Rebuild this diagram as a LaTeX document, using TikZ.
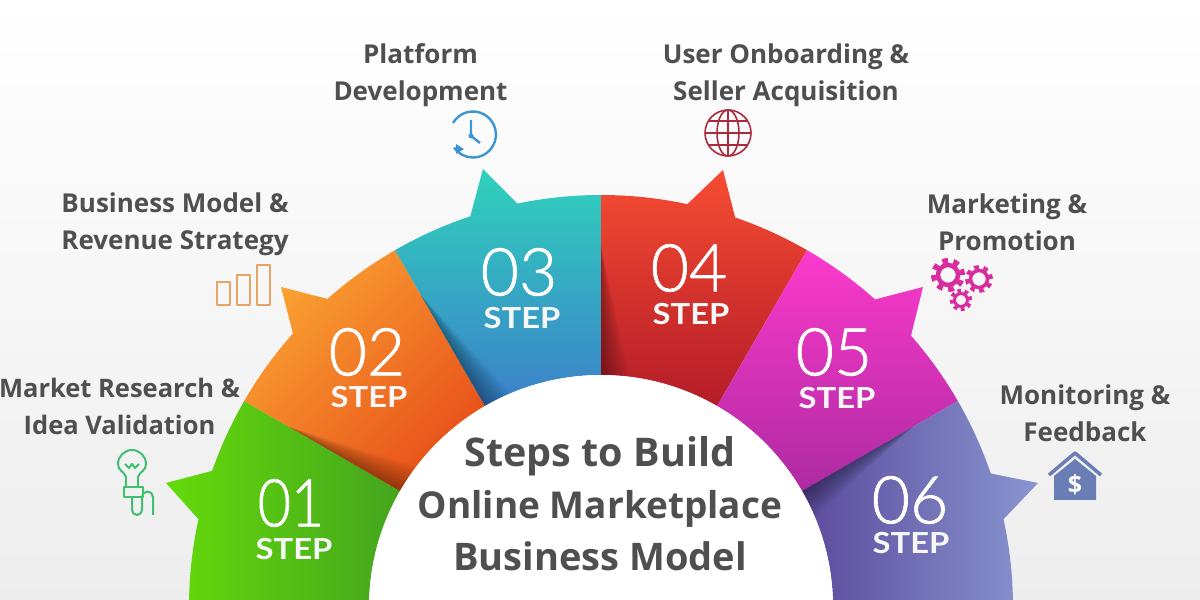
\documentclass[tikz,border=0pt]{standalone}
\usepackage{fontspec}
\setmainfont{Open Sans}
\newfontfamily\digf{Lato Light}[FakeBold=1]
\newfontfamily\stepf{Lato}
\definecolor{ink}{HTML}{4F4F4F}
\definecolor{bulbc}{HTML}{3FBF70}
\definecolor{barc}{HTML}{E6A564}
\definecolor{clockc}{HTML}{3C95D2}
\definecolor{globec}{HTML}{A92B40}
\definecolor{gearc}{HTML}{D92C9E}
\definecolor{housec}{HTML}{6A7DB5}
\definecolor{sa}{HTML}{64DA0A}\definecolor{sb}{HTML}{44A51E}
\definecolor{oa}{HTML}{FAA232}\definecolor{ob}{HTML}{E8501A}
\definecolor{ta}{HTML}{2FD2BC}\definecolor{tb}{HTML}{3C80CA}
\definecolor{ra}{HTML}{F64C32}\definecolor{rb}{HTML}{B41C28}
\definecolor{ma}{HTML}{FC3ACC}\definecolor{mb}{HTML}{AE2AA2}
\definecolor{pa}{HTML}{8896D0}\definecolor{pb}{HTML}{5C4A9C}
\newcommand{\sectorpath}[7]{%
  \shade[#1] (#2:412) arc[start angle=#2,end angle=#3,radius=412] -- (#6,#7)
    -- (#4:412) arc[start angle=#4,end angle=#5,radius=412] -- (#5:232)
    arc[start angle=#5,end angle=#2,radius=232] -- cycle;}
\newcommand{\seamshadow}[2]{%
  \foreach \w in {1,2,...,16}{\fill[black,opacity=.022] (#1:360) -- (#1:232) -- ({#1+#2*\w}:232) -- cycle;}}
% centre x, centre y, ring radius, ring width, tooth ring radius, tooth width, tooth dash
\newcommand{\gearicon}[7]{%
  \draw[gearc,line width=#4] (#1,#2) circle[radius=#3];
  \draw[gearc,line width=#6,dash pattern=on #7pt off #7pt] (#1,#2) circle[radius=#5];}
\newcommand{\steptext}{\scalebox{1.13}[1]{STEP}}
\tikzset{
  lab/.style={font=\fontsize{26}{37}\selectfont\bfseries,text=ink,align=center,inner sep=0pt},
  titlelab/.style={font=\fontsize{37}{52}\selectfont\bfseries,text=ink,align=center,inner sep=0pt},
  num/.style={font=\digf\fontsize{66}{66}\selectfont,text=white,inner sep=0pt},
  steplab/.style={font=\stepf\bfseries\fontsize{29}{29}\selectfont,text=white!94!gray,inner sep=0pt},
}
\begin{document}
\begin{tikzpicture}[x=1pt,y=1pt,line join=round]
\useasboundingbox (0,0) rectangle (1200,600);
\clip (0,0) rectangle (1200,600);
\shade[top color=white,bottom color=black!7] (0,0) rectangle (1200,600);
\begin{scope}[shift={(601,-7)}]
 \sectorpath{left color=sa,right color=sb}{180}{167.7}{160.7}{150}{-435}{124}
 \sectorpath{left color=oa,right color=ob,shading angle=45}{150}{138.4}{131.6}{120}{-320}{320}
 \sectorpath{top color=ta,bottom color=tb}{120}{108.5}{101.7}{90}{-118}{438}
 \sectorpath{top color=ra,bottom color=rb}{90}{77.9}{71}{60}{122}{437}
 \sectorpath{top color=ma,bottom color=mb}{60}{48.3}{41.2}{30}{322}{320}
 \sectorpath{left color=pb,right color=pa}{30}{18.9}{12.3}{0}{437}{124}
 \seamshadow{150}{-.45}
 \seamshadow{120}{-.45}
 \seamshadow{90}{-.45}
 \seamshadow{30}{-.45}
 \fill[white] (0,0) circle[radius=232];
\end{scope}
% numbers
\node[num] (n1) at (291,97) {\scalebox{.87}[1]{01}};
\node[steplab] (s1) at (294,51) {\steptext};
\node[num] (n2) at (367,248) {02};
\node[steplab] (s2) at (369,203) {\steptext};
\node[num] (n3) at (519,328) {03};
\node[steplab] (s3) at (522,282) {\steptext};
\node[num] (n4) at (689,332) {04};
\node[steplab] (s4) at (691,286) {\steptext};
\node[num] (n5) at (834,248) {05};
\node[steplab] (s5) at (837,202) {\steptext};
\node[num] (n6) at (910,100) {06};
\node[steplab] (s6) at (911,57) {\steptext};
% labels
\node[lab,font=\fontsize{25.5}{37}\selectfont\bfseries] (l1) at (119.5,194) {Market Research \&\\Idea Validation};
\node[lab] (l2) at (175,376) {Business Model \&\\Revenue Strategy};
\node[lab] (l3) at (420.5,525) {Platform\\Development};
\node[lab] (l4) at (786,525) {User Onboarding \&\\Seller Acquisition};
\node[lab] (l5) at (1007,378) {Marketing \&\\Promotion};
\node[lab] (l6) at (1085,187) {Monitoring \&\\Feedback};
\node[titlelab] (title) at (600,96) {{\fontsize{39.5}{52}\selectfont Steps to Build}\\Online Marketplace\\{\fontsize{38}{52}\selectfont Business Model}};
% bulb
\begin{scope}[bulbc,line width=2]
 \draw (126,123) .. controls (124,129) and (118,129) .. (118,136) arc[start angle=180,end angle=0,radius=14] .. controls (146,129) and (140,129) .. (138,123);
 \draw (124,113) rectangle (143,103);
 \draw (126,113) -- (126,123) (138,113) -- (138,123);
 \draw (132,103) -- (132,90) arc[start angle=180,end angle=360,radius=5] -- (142,103) arc[start angle=180,end angle=0,radius=5.5] -- (153,85);
 \draw (125,136) -- (129,132) -- (132,136) -- (135,132) -- (139,136);
\end{scope}
% bars
\begin{scope}[barc,line width=2.2]
 \draw (217,295) rectangle (230,318);
 \draw (237,295) rectangle (250,325);
 \draw (257,295) rectangle (270,335);
\end{scope}
% clock
\begin{scope}[clockc,line width=2.4]
 \draw (453,477) arc[start angle=150,end angle=-145,radius=23];
 \fill (456,456) -- (456,446) -- (464,451) -- cycle;
 \draw (471,480) -- (471,464) -- (480,457);
 \fill (471,464) circle[radius=2.5];
\end{scope}
% globe
\begin{scope}[globec,line width=1.6]
 \draw (728,467) circle[radius=23];
 \draw (728,467) ellipse[x radius=11,y radius=23];
 \draw (728,490) -- (728,444);
 \draw (705,467) -- (751,467);
 \draw (709,479) -- (747,479) (709,455) -- (747,455);
\end{scope}
% gears
\gearicon{948}{325}{10}{4.5}{14.5}{5}{5.7}
\gearicon{979}{321}{8.5}{3.5}{12}{4}{4.7}
\gearicon{961}{300}{6.5}{3}{9.5}{3.5}{3.7}
% house
\draw[housec,line width=3.5,line cap=butt] (1049,125) -- (1075,147) -- (1101,125);
\fill[housec] (1054,100) -- (1096,100) -- (1096,124) -- (1075,141) -- (1054,124) -- cycle;
\node[font=\fontsize{25}{25}\selectfont\bfseries,text=white,inner sep=0pt] (dollar) at (1075,115) {\$};
\end{tikzpicture}
\end{document}
